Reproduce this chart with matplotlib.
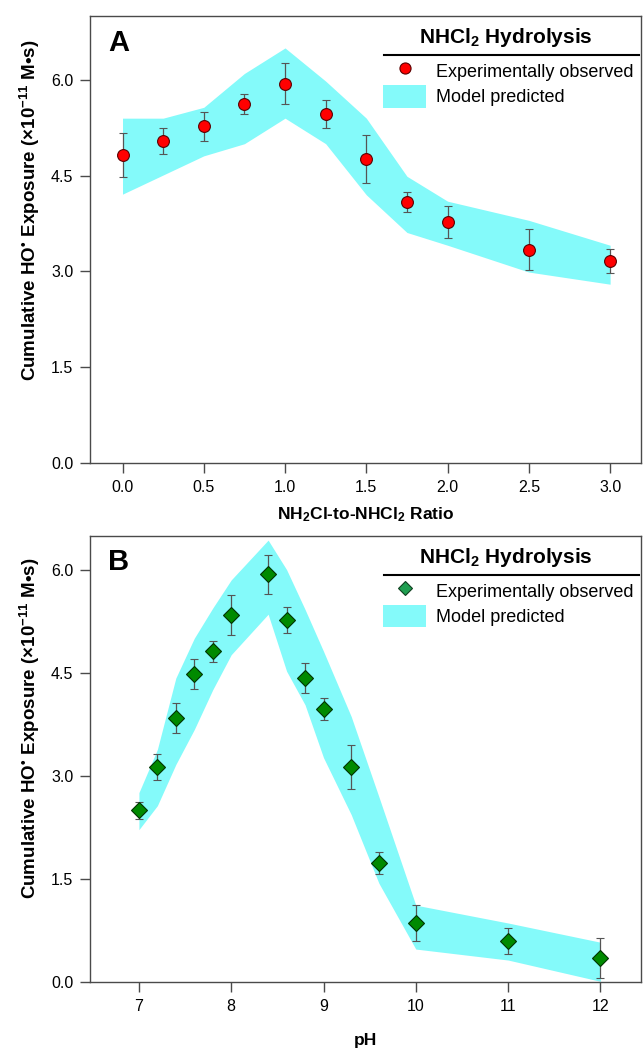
import matplotlib
matplotlib.use("Agg")
import matplotlib.pyplot as plt
from matplotlib.lines import Line2D
from matplotlib.patches import Patch

plt.rcParams['font.family'] = ['Liberation Sans', 'DejaVu Sans']
plt.rcParams['mathtext.fontset'] = 'custom'
plt.rcParams['mathtext.rm'] = 'Liberation Sans:bold'
plt.rcParams['mathtext.bf'] = 'Liberation Sans:bold'
plt.rcParams['mathtext.it'] = 'Liberation Sans:bold'
plt.rcParams['mathtext.default'] = 'bf'

# ---------------- Panel A data ----------------
ratio = [0.0, 0.25, 0.5, 0.75, 1.0, 1.25, 1.5, 1.75, 2.0, 2.5, 3.0]
exp_a = [4.82, 5.04, 5.27, 5.62, 5.94, 5.46, 4.76, 4.09, 3.77, 3.34, 3.16]
err_a = [0.34, 0.20, 0.23, 0.16, 0.32, 0.22, 0.38, 0.16, 0.25, 0.32, 0.19]
model_a_hi = [5.40, 5.40, 5.57, 6.10, 6.50, 5.98, 5.40, 4.49, 4.10, 3.80, 3.41]
model_a_lo = [4.21, 4.51, 4.81, 5.00, 5.40, 5.00, 4.20, 3.61, 3.41, 2.99, 2.80]

# ---------------- Panel B data ----------------
ph = [7.0, 7.2, 7.4, 7.6, 7.8, 8.0, 8.4, 8.6, 8.8, 9.0, 9.3, 9.6, 10.0, 11.0, 12.0]
exp_b = [2.50, 3.14, 3.85, 4.49, 4.82, 5.35, 5.94, 5.27, 4.43, 3.98, 3.14, 1.73, 0.86, 0.60, 0.35]
err_b = [0.12, 0.19, 0.22, 0.22, 0.15, 0.29, 0.29, 0.19, 0.22, 0.16, 0.32, 0.16, 0.26, 0.19, 0.29]
model_b_hi = [2.76, 3.39, 4.43, 5.01, 5.45, 5.86, 6.44, 6.01, 5.43, 4.82, 3.87, 2.70, 1.12, 0.86, 0.58]
model_b_lo = [2.22, 2.57, 3.17, 3.68, 4.26, 4.77, 5.36, 4.53, 4.04, 3.27, 2.44, 1.44, 0.48, 0.32, 0.01]

yticks = [0.0, 1.5, 3.0, 4.5, 6.0]
xticks_a = [0.0, 0.5, 1.0, 1.5, 2.0, 2.5, 3.0]
xticks_b = [7, 8, 9, 10, 11, 12]

ylabel = 'Cumulative HO$^{\u2022}$ Exposure (\u00d710$^{-11}$ M\u2022s)'
legend_title = 'NHCl$_{2}$ Hydrolysis'

W, H = 643, 1048
fig = plt.figure(figsize=(W / 100, H / 100), dpi=100)
axA = fig.add_axes([90 / W, 1 - 463 / H, 551 / W, 447 / H])
axB = fig.add_axes([90 / W, 1 - 982 / H, 551 / W, 446 / H])

FILL = '#84fafa'
SPINE = '#4a4a4a'


def style(ax):
    for s in ax.spines.values():
        s.set_color(SPINE)
        s.set_linewidth(1.0)
    ax.tick_params(axis='both', direction='out', length=7, width=1.0,
                   color=SPINE, labelsize=11.5, pad=5)
    ax.tick_params(axis='both', which='both', top=False, right=False)


def legend_block(ax, marker_handle):
    ax.text(0.755, 0.951, legend_title, transform=ax.transAxes, ha='center', va='center',
            fontsize=15, fontweight='bold', color='black')
    ax.plot([0.533, 0.997], [0.912, 0.912], transform=ax.transAxes, color='black',
            lw=1.5, clip_on=False)
    handles = [marker_handle, Patch(facecolor=FILL, edgecolor='none')]
    leg = ax.legend(handles, ['Experimentally observed', 'Model predicted'],
                    loc='upper left', bbox_to_anchor=(0.525, 0.91), frameon=False,
                    fontsize=13, handlelength=2.4, handleheight=1.5,
                    handletextpad=0.55, labelspacing=0.2, borderaxespad=0.0,
                    borderpad=0.2)
    return leg


# ---- Panel A ----
style(axA)
axA.fill_between(ratio, model_a_lo, model_a_hi, color=FILL, lw=0, zorder=1)
axA.errorbar(ratio, exp_a, yerr=err_a, fmt='o', color='#ff0000', mec='#5a0000',
             mew=0.8, ms=8.5, ecolor='#555555', elinewidth=0.9, capsize=3, capthick=0.9,
             zorder=3)
axA.set_xlim(-0.2, 3.19)
axA.set_ylim(0, 7.0)
axA.set_xticks(xticks_a)
axA.set_xticklabels(['%.1f' % v for v in xticks_a])
axA.set_yticks(yticks)
axA.set_yticklabels(['%.1f' % v for v in yticks])
axA.set_xlabel('NH$_{2}$Cl-to-NHCl$_{2}$ Ratio', fontsize=12.5, fontweight='bold')
axA.xaxis.set_label_coords(0.5, -0.094)
axA.set_ylabel(ylabel, fontsize=13.5, fontweight='bold', va='center')
axA.yaxis.set_label_coords(-0.109, 0.566)
axA.text(0.033, 0.972, 'A', transform=axA.transAxes, fontsize=21, fontweight='bold',
         ha='left', va='top')
legend_block(axA, Line2D([], [], ls='none', marker='o', color='#ff0000', mec='#5a0000',
                         mew=0.8, ms=8))

# ---- Panel B ----
style(axB)
axB.fill_between(ph, model_b_lo, model_b_hi, color=FILL, lw=0, zorder=1)
axB.errorbar(ph, exp_b, yerr=err_b, fmt='D', color='#008a00', mec='#003300',
             mew=0.8, ms=8, ecolor='#555555', elinewidth=0.9, capsize=3, capthick=0.9,
             zorder=3)
axB.set_xlim(6.47, 12.44)
axB.set_ylim(0, 6.5)
axB.set_xticks(xticks_b)
axB.set_yticks(yticks)
axB.set_yticklabels(['%.1f' % v for v in yticks])
axB.set_xlabel('pH', fontsize=12.5, fontweight='bold')
axB.xaxis.set_label_coords(0.5, -0.114)
axB.set_ylabel(ylabel, fontsize=13.5, fontweight='bold', va='center')
axB.yaxis.set_label_coords(-0.109, 0.57)
axB.text(0.033, 0.972, 'B', transform=axB.transAxes, fontsize=21, fontweight='bold',
         ha='left', va='top')
legend_block(axB, Line2D([], [], ls='none', marker='D', color='#1f9e50', mec='#104020',
                         mew=0.8, ms=7))

fig.savefig('out.png', dpi=100)
